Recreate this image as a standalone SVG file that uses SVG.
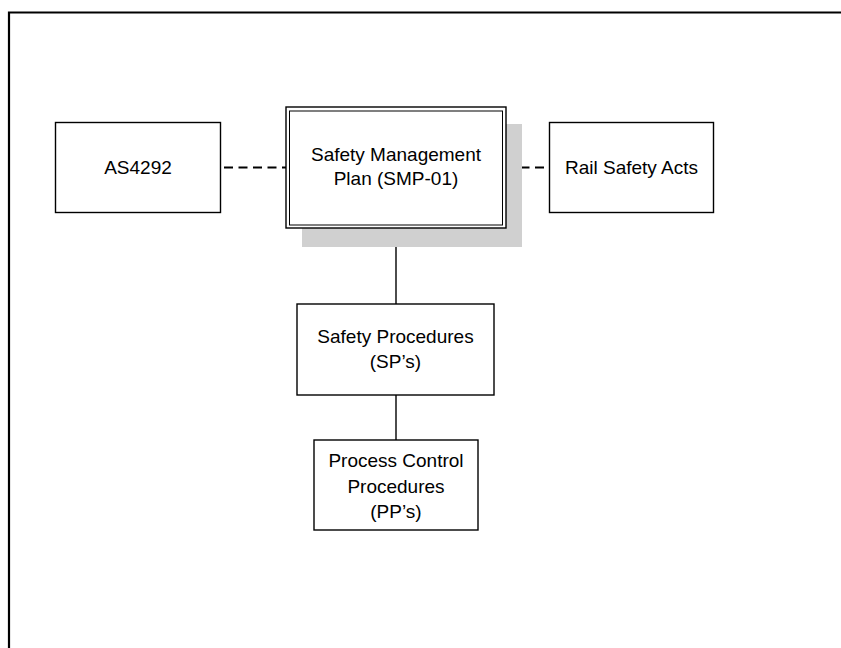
<svg xmlns="http://www.w3.org/2000/svg" width="841" height="648" viewBox="0 0 841 648">
<style>
.box{fill:#fff;stroke:#000;stroke-width:1.4}
.t{font-family:"Liberation Sans",Arial,sans-serif;font-size:19px;fill:#000;text-anchor:middle}
.solid{stroke:#000;stroke-width:1.4;fill:none}
.dash{stroke:#000;stroke-width:2.2;stroke-dasharray:9 5.5;fill:none}
</style>
<rect width="841" height="648" fill="#fff"/>
<g id="frame">
<path d="M9 648 V12.5 H841" fill="none" stroke="#000" stroke-width="2.2"/>
</g>
<g id="connectors">
<line class="dash" x1="224" y1="167.5" x2="286" y2="167.5"/>
<line class="dash" x1="506" y1="167.5" x2="549" y2="167.5"/>
<line class="solid" x1="396" y1="228" x2="396" y2="304"/>
<line class="solid" x1="396" y1="395" x2="396" y2="440"/>
</g>
<g id="as4292">
<rect class="box" x="55.5" y="122.5" width="165" height="90"/>
<text class="t" x="138" y="174">AS4292</text>
</g>
<g id="smp">
<rect x="302" y="124" width="220" height="123" fill="#d0d0d0"/>
<rect class="box" x="286" y="107" width="220" height="121" stroke-width="1.5"/>
<rect x="289.5" y="111" width="213" height="114" fill="none" stroke="#000" stroke-width="1"/>
<text class="t" x="396" y="161">Safety Management</text>
<text class="t" x="396" y="185">Plan (SMP-01)</text>
</g>
<g id="rail">
<rect class="box" x="549.5" y="122.5" width="164" height="90"/>
<text class="t" x="631.5" y="174">Rail Safety Acts</text>
</g>
<g id="sp">
<rect class="box" x="297" y="304" width="197" height="91"/>
<text class="t" x="395.5" y="343">Safety Procedures</text>
<text class="t" x="395.5" y="368">(SP’s)</text>
</g>
<g id="pp">
<rect class="box" x="314" y="440" width="164" height="90"/>
<text class="t" x="396" y="467">Process Control</text>
<text class="t" x="396" y="493">Procedures</text>
<text class="t" x="396" y="518">(PP’s)</text>
</g>
</svg>
